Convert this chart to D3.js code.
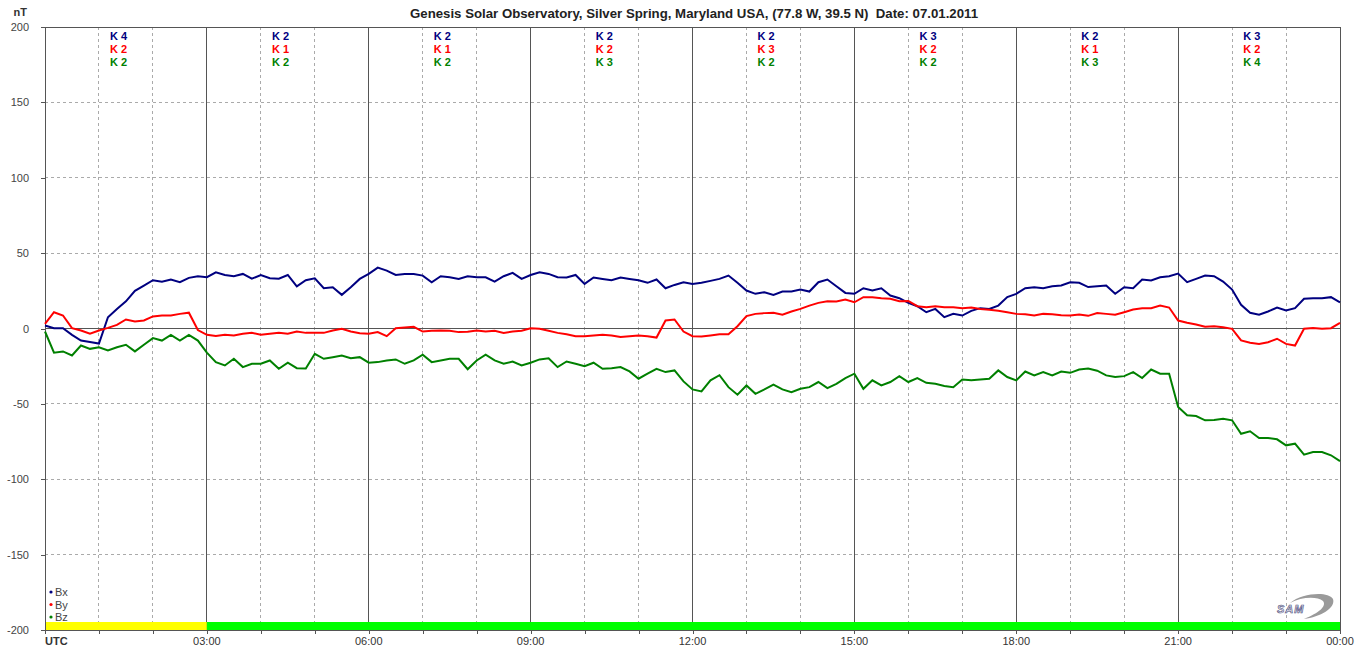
<!DOCTYPE html>
<html><head><meta charset="utf-8">
<script src="https://cdn.jsdelivr.net/npm/d3@7"></script>
<style>
body{margin:0;background:#fff;}
svg text{font-family:"Liberation Sans",Arial,sans-serif;white-space:pre;}
</style>
</head><body>
<svg id="chart" width="1360" height="657"></svg>
<script>
// ---------- data ----------
const titleText = "Genesis Solar Observatory, Silver Spring, Maryland USA, (77.8 W, 39.5 N)  Date: 07.01.2011";
const unitLabel = "nT";
const stepMinutes = 10; // one sample every 10 minutes, 00:00 .. 24:00

const bx = [
  2.0, 0.2, 0.2, -4.2, -8, -9, -10, 7.5, 13, 18,
  25, 28.5, 32, 31, 32.5, 30.7, 33.6, 34.7, 34, 37.3,
  35.5, 34.7, 36.2, 33, 35.5, 33.3, 33, 35.5, 28, 32,
  33.3, 26.7, 27.4, 22.3, 27.4, 32.9, 36.2, 40.4, 38.4, 35.5,
  36.2, 36.2, 35.1, 30.7, 34.7, 34, 32.9, 34.7, 34, 34,
  31.1, 34.7, 36.9, 32.9, 35.5, 37.3, 36.2, 34, 33.8, 35.5,
  29.6, 33.8, 32.9, 32, 33.8, 32.9, 32, 30.3, 32.5, 26.7,
  28.9, 30.7, 29.6, 30.3, 31.6, 32.9, 35.1, 30.3, 25.2, 23,
  24.1, 22.3, 24.5, 24.5, 25.8, 24.5, 30.7, 32.5, 28, 23.6,
  23, 26.7, 25.2, 26.7, 21.9, 20.1, 17, 14.8, 10.8, 13,
  7.5, 9.7, 8.6, 11.7, 13.5, 13, 15.2, 20.8, 23, 26.7,
  27.4, 26.7, 28, 28.5, 30.7, 30.3, 27.5, 28, 28.5, 23,
  27.4, 26.7, 32.5, 31.8, 34, 34.7, 36.4, 30.7, 32.9, 35.1,
  34.7, 31.1, 25.8, 15.7, 10.4, 9.1, 11.3, 13.9, 11.9, 13.5,
  19.7, 20.1, 20.1, 20.8, 17.4
];
const by = [
  3, 10.8, 8.6, 0.2, -1.3, -3.5, -1.3, 0.4, 2.4, 6,
  4.6, 5.3, 8, 8.6, 8.6, 9.7, 10.5, -1, -4.2, -5,
  -4.2, -4.6, -3.5, -2.9, -4.2, -3.5, -2.9, -3.5, -2, -2.9,
  -2.9, -2.9, -1.3, -0.2, -2, -3.1, -3.5, -2.4, -5.1, 0.2,
  0.7, 1.1, -2, -1.5, -1.3, -1.5, -2.4, -2.2, -1.3, -2,
  -1.5, -2.9, -2, -1.5, 0.2, -0.2, -1.5, -2.9, -3.8, -5.1,
  -5.1, -4.6, -4.2, -4.6, -5.7, -5.1, -4.6, -5.1, -6, 5.3,
  6, -2, -5.1, -5.3, -4.6, -3.8, -3.8, 1.5, 8.2, 9.7,
  10.2, 10.4, 9.1, 11.3, 13, 15.2, 17, 18, 17.9, 19.2,
  17.4, 20.8, 20.8, 20.1, 19.7, 18.1, 18.3, 14.8, 14.1, 14.8,
  14.1, 14.1, 13.5, 13.9, 13, 12.4, 11.7, 10.8, 9.7, 9.5,
  8.6, 9.7, 9.5, 8.8, 8.6, 9.3, 8.4, 10.2, 9.7, 9.1,
  10.8, 12.6, 13.5, 13.5, 15.2, 13.9, 5.3, 3.8, 2.6, 1.1,
  1.5, 0.9, -0.2, -7.9, -9.5, -10.2, -9.1, -6.8, -10.2, -11.3,
  -0.2, 0.4, -0.2, 0.2, 3.8
];
const bz = [
  -2, -16, -15.2, -17.9, -11.3, -13.5, -12.4, -14.6, -12.4, -10.8,
  -15.2, -10.8, -6.4, -8, -4.2, -8, -4.2, -8, -16, -22.3,
  -24.5, -20.1, -25.6, -23.4, -23.4, -21.2, -26.7, -22.7, -26.3, -26.5,
  -16.8, -20.1, -19, -17.9, -19.7, -19, -22.7, -22.3, -21.2, -20.5,
  -23.4, -21.2, -17.4, -22.3, -21.2, -20.1, -20.1, -27, -21.2, -17.4,
  -21.2, -23.4, -21.9, -24.5, -22.7, -20.5, -19.7, -25.6, -21.9, -23.4,
  -25, -22.7, -26.7, -26.3, -25.6, -28.5, -33.3, -30, -26.7, -28.9,
  -27.8, -35.1, -40.4, -41.7, -34.4, -31, -38.9, -43.9, -37.8, -43.3,
  -40.4, -37.3, -40.4, -42.2, -40, -38.9, -35.5, -39.5, -36.7, -32.9,
  -30, -40, -34.4, -37.8, -35.5, -31.6, -35.5, -32.9, -36, -36.7,
  -38.2, -38.9, -33.8, -34.4, -33.8, -33.3, -27.8, -32.2, -34.4, -28.5,
  -31.1, -28.9, -31.1, -28.5, -29.4, -27.2, -26.5, -28, -31.1, -32.2,
  -31.6, -28.9, -32.9, -27.2, -30, -30, -52.1, -57.6, -58.1, -60.9,
  -60.7, -59.8, -60.9, -69.8, -68.2, -72.6, -72.6, -73.5, -77.5, -76.4,
  -83.7, -81.9, -81.9, -84.1, -88
];

// K indices per 3-hour block
const kBx = [4, 2, 2, 2, 2, 3, 2, 3];
const kBy = [2, 1, 1, 2, 3, 2, 1, 2];
const kBz = [2, 2, 2, 3, 2, 2, 3, 4];

const xTickLabels = ["UTC", "03:00", "06:00", "09:00", "12:00", "15:00", "18:00", "21:00", "00:00"];
const yTickValues = [200, 150, 100, 50, 0, -50, -100, -150, -200];
const seriesNames = ["Bx", "By", "Bz"];
// quality bar segments (hours)
const barStarts = [0, 3];
const barEnds = [3, 24];

// ---------- drawing ----------
const colors = ["#000080", "#ff0000", "#008000"];
const barColors = ["#ffff00", "#00ff00"];
const svg = d3.select("#chart");
const L = 45, R = 1340, T = 27, B = 630;
const x = d3.scaleLinear().domain([0, 24]).range([L, R]);
const y = d3.scaleLinear().domain([-200, 200]).range([B, T]);

// title
svg.append("text").attr("x", 694).attr("y", 18).attr("text-anchor", "middle")
  .attr("font-size", 13).attr("font-weight", "bold").attr("fill", "#222")
  .attr("textLength", 568).attr("lengthAdjust", "spacingAndGlyphs").text(titleText);
svg.append("text").attr("x", 27).attr("y", 16).attr("text-anchor", "end")
  .attr("font-size", 11).attr("font-weight", "bold").attr("fill", "#333").text(unitLabel);

const grid = svg.append("g");
// hourly vertical lines
d3.range(1, 24).forEach(h => {
  const solid = h % 3 === 0;
  grid.append("line").attr("x1", x(h)).attr("x2", x(h)).attr("y1", T).attr("y2", B)
    .attr("stroke", solid ? "#555" : "#aaa").attr("stroke-width", 1)
    .attr("stroke-dasharray", solid ? null : "3,3")
    .attr("shape-rendering", "crispEdges");
});
// horizontal lines
yTickValues.filter(v => v !== 200 && v !== -200).forEach(v => {
  grid.append("line").attr("x1", L).attr("x2", R).attr("y1", y(v)).attr("y2", y(v))
    .attr("stroke", v === 0 ? "#555" : "#aaa").attr("stroke-width", 1)
    .attr("stroke-dasharray", v === 0 ? null : "3,3")
    .attr("shape-rendering", "crispEdges");
});

// quality bars
svg.selectAll("rect.qb").data(barStarts).enter().append("rect")
  .attr("x", (d) => x(d)).attr("width", (d, i) => x(barEnds[i]) - x(d))
  .attr("y", B - 8).attr("height", 8).attr("fill", (d, i) => barColors[i]);

// frame
svg.append("line").attr("x1", L).attr("x2", R).attr("y1", T).attr("y2", T).attr("stroke", "#555").attr("shape-rendering", "crispEdges");
svg.append("line").attr("x1", R).attr("x2", R).attr("y1", T).attr("y2", B).attr("stroke", "#555").attr("shape-rendering", "crispEdges");

// axes
const xAxis = d3.axisBottom(x).tickValues(d3.range(0, 25)).tickSize(4).tickFormat("");
const gx = svg.append("g").attr("transform", `translate(0,${B})`).call(xAxis);
gx.select(".domain").attr("stroke", "#555");
gx.selectAll(".tick line").attr("stroke", "#555");
const yAxis = d3.axisLeft(y).tickValues(yTickValues).tickSize(4).tickFormat("");
const gy = svg.append("g").attr("transform", `translate(${L},0)`).call(yAxis);
gy.select(".domain").attr("stroke", "#555");
gy.selectAll(".tick line").attr("stroke", "#555");
svg.selectAll("path.domain, .tick line").attr("shape-rendering", "crispEdges");

// x labels
xTickLabels.forEach((lab, i) => {
  const h = i * 3;
  svg.append("text").attr("x", i === 0 ? L : x(h)).attr("y", 645)
    .attr("text-anchor", i === 0 ? "start" : "middle")
    .attr("font-size", 11).attr("font-weight", i === 0 ? "bold" : "normal")
    .attr("fill", "#333").text(lab);
});
// y labels
yTickValues.forEach(v => {
  svg.append("text").attr("x", 29).attr("y", y(v) + 4).attr("text-anchor", "end")
    .attr("font-size", 11).attr("fill", "#444").text(v);
});

// data lines
const tHours = i => i * stepMinutes / 60;
const line = d3.line().x((d, i) => x(tHours(i))).y(d => y(d));
[bx, by, bz].forEach((s, k) => {
  svg.append("path").datum(s).attr("d", line).attr("fill", "none")
    .attr("stroke", colors[k]).attr("stroke-width", 2).attr("stroke-linejoin", "miter");
});

// K indices
const kSets = [kBx, kBy, kBz];
kSets.forEach((arr, r) => {
  arr.forEach((k, b) => {
    svg.append("text").attr("x", x(b * 3) + 65).attr("y", 40 + r * 13)
      .attr("font-size", 11).attr("font-weight", "bold").attr("fill", colors[r])
      .text("K " + k);
  });
});

// legend
seriesNames.forEach((n, i) => {
  const yy = 592 + i * 12.5;
  svg.append("circle").attr("cx", 51).attr("cy", yy).attr("r", 1.6).attr("fill", colors[i]);
  svg.append("text").attr("x", 55).attr("y", yy + 4).attr("font-size", 11).attr("fill", "#444").text(n);
});

// SAM logo
const logo = svg.append("g");
logo.append("path")
  .attr("d", "M1290,603 C1302,593 1328,591 1333,599 C1336,608 1320,617 1304,619 C1319,613 1327,606 1323,601 C1317,596 1301,597 1290,603 Z")
  .attr("fill", "#9a9a9a");
logo.append("text").attr("x", 1277).attr("y", 613).attr("font-size", 11).attr("font-style", "italic")
  .attr("font-weight", "bold").attr("fill", "#e8e8f0").attr("stroke", "#4a4a7a").attr("stroke-width", 0.6)
  .attr("letter-spacing", 1).text("SAM");
</script>
</body></html>
